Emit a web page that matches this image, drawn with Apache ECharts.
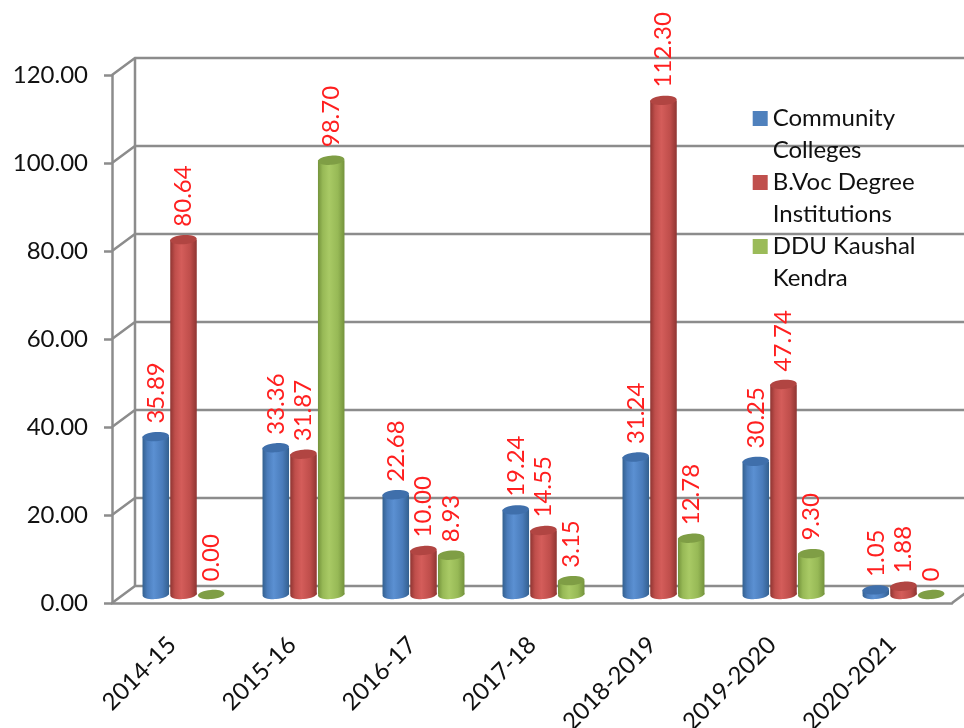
<!DOCTYPE html>
<html>
<head>
<meta charset="utf-8">
<script src="https://cdn.jsdelivr.net/npm/echarts@6/dist/echarts.min.js"></script>
<style>
  html, body { margin: 0; padding: 0; background: #ffffff; }
  #chart { width: 964px; height: 728px; }
</style>
</head>
<body>
<div id="chart"></div>
<script>
// Academic years on the category axis
const years = ['2014-15', '2015-16', '2016-17', '2017-18', '2018-2019', '2019-2020', '2020-2021'];

// Values per scheme, kept as the printed label strings
const communityColleges = ['35.89', '33.36', '22.68', '19.24', '31.24', '30.25', '1.05'];
const bvocInstitutions  = ['80.64', '31.87', '10.00', '14.55', '112.30', '47.74', '1.88'];
const dduKaushalKendra  = ['0.00', '98.70', '8.93', '3.15', '12.78', '9.30', '0'];

// Value axis ticks
const yTicks = [0, 20, 40, 60, 80, 100, 120];

// Legend names (wrapped onto two lines)
const seriesNames = ['Community\nColleges', 'B.Voc Degree\nInstitutions', 'DDU Kaushal\nKendra'];

const FONT = 'Lato, "Open Sans", sans-serif';
const FONT_SIZE = 24;
const GRID_COLOR = '#8c8c8c';
const DEPTH = [23, -17];       // offset of the back wall relative to the front plane
const LABEL_COLOR = '#ff1f1f';
const TEXT_COLOR = '#111111';

const palettes = [
  { base: '#4f81bd', dark: '#33608f', mid: '#4a7cbb', light: '#5b90d2', top: '#3f6fab' },
  { base: '#c0504d', dark: '#8f3532', mid: '#bf4e4b', light: '#d45d5a', top: '#b14542' },
  { base: '#9bbb59', dark: '#74933c', mid: '#97b956', light: '#a9ca65', top: '#7f9e45' }
];

const seriesValues = [communityColleges, bvocInstitutions, dduKaushalKendra];

function cylinderRenderer(k, labels) {
  const pal = palettes[k];
  return function (params, api) {
    const idx = api.value(0);
    const v = api.value(1);
    const base = api.coord([idx, 0]);
    const top = api.coord([idx, v]);
    const band = api.size([1, 0])[0];
    const step = band * 0.231;
    const w = band * 0.221;
    const cx = base[0] + (k - 1) * step + DEPTH[0] / 2;
    const yb = base[1] + DEPTH[1] / 2;
    const yt = top[1] + DEPTH[1] / 2;
    const ry = 4.6;
    const tilt = 0.07;
    const bodyFill = new echarts.graphic.LinearGradient(0, 0, 1, 0, [
      { offset: 0, color: pal.dark },
      { offset: 0.18, color: pal.mid },
      { offset: 0.42, color: pal.light },
      { offset: 0.75, color: pal.mid },
      { offset: 1, color: pal.dark }
    ]);
    const children = [];
    if (yb - yt > 0.5) {
      children.push({
        type: 'ellipse',
        shape: { cx: cx, cy: yb, rx: w / 2, ry: ry },
        rotation: tilt, originX: cx, originY: yb,
        style: { fill: bodyFill }
      });
      children.push({
        type: 'rect',
        shape: { x: cx - w / 2, y: yt, width: w, height: yb - yt },
        style: { fill: bodyFill }
      });
    }
    children.push({
      type: 'ellipse',
      shape: { cx: cx, cy: yt, rx: w / 2, ry: ry },
      rotation: tilt, originX: cx, originY: yt,
      style: { fill: pal.top }
    });
    children.push({
      type: 'text',
      x: cx,
      y: yt - 13,
      rotation: Math.PI / 2,
      style: {
        text: labels[params.dataIndex],
        fill: LABEL_COLOR,
        font: FONT_SIZE + 'px ' + FONT,
        align: 'left',
        verticalAlign: 'middle'
      }
    });
    return { type: 'group', children: children };
  };
}

// Back wall, gridlines and floor outline drawn in perspective
function wallRenderer(params, api) {
  const cs = params.coordSys;
  const v = api.value(1);
  const p = api.coord([0, v]);
  const y = p[1];
  const gx = cs.x;
  const right = api.getWidth() + 5;
  const line = { stroke: GRID_COLOR, lineWidth: 2.5, fill: null };
  const children = [{
    type: 'polyline',
    shape: { points: [[gx, y], [gx + DEPTH[0], y + DEPTH[1]], [right, y + DEPTH[1]]] },
    style: line
  }];
  if (params.dataIndex === 0) {
    const yMax = api.coord([0, yTicks[yTicks.length - 1]])[1];
    children.push({
      type: 'line',
      shape: { x1: gx + DEPTH[0], y1: y + DEPTH[1], x2: gx + DEPTH[0], y2: yMax + DEPTH[1] },
      style: line
    });
    children.push({
      type: 'line',
      shape: { x1: gx + cs.width, y1: y, x2: gx + cs.width + DEPTH[0], y2: y + DEPTH[1] },
      style: line
    });
  }
  return { type: 'group', children: children };
}

const chart = echarts.init(document.getElementById('chart'), null, { renderer: 'canvas' });

const series = [{
  type: 'custom',
  name: '__wall',
  silent: true,
  clip: false,
  z: 1,
  renderItem: wallRenderer,
  data: yTicks.map(function (t) { return [0, t]; })
}];

seriesValues.forEach(function (arr, k) {
  series.push({
    type: 'custom',
    name: seriesNames[k],
    clip: false,
    z: 3,
    itemStyle: { color: palettes[k].base },
    renderItem: cylinderRenderer(k, arr),
    encode: { x: 0, y: 1 },
    data: arr.map(function (s, i) { return [i, parseFloat(s)]; })
  });
});

chart.setOption({
  animation: false,
  backgroundColor: '#ffffff',
  grid: {
    left: 112, right: 12, top: 75, bottom: 125,
    containLabel: false,
    outerBoundsMode: 'none'
  },
  xAxis: {
    type: 'category',
    data: years,
    axisLine: { show: true, lineStyle: { color: GRID_COLOR, width: 2.5 } },
    axisTick: { show: false },
    axisLabel: {
      interval: 0,
      rotate: 45,
      margin: 38,
      fontSize: FONT_SIZE,
      fontFamily: FONT,
      color: TEXT_COLOR
    },
    splitLine: { show: false }
  },
  yAxis: {
    type: 'value',
    min: 0,
    max: 120,
    interval: 20,
    axisLine: { show: true, lineStyle: { color: GRID_COLOR, width: 2.5 } },
    axisTick: { show: true, length: 8, lineStyle: { color: GRID_COLOR, width: 2.5 } },
    axisLabel: {
      margin: 24,
      fontSize: FONT_SIZE,
      fontFamily: FONT,
      color: TEXT_COLOR,
      formatter: function (v) { return v.toFixed(2); }
    },
    splitLine: { show: false }
  },
  legend: {
    orient: 'vertical',
    left: 747.7,
    top: 97.5,
    itemWidth: 15,
    itemHeight: 47,
    itemGap: 0,
    icon: 'path://M0,0L15,0L15,15L0,15ZM0,47L0.01,47',
    itemStyle: { borderWidth: 0 },
    data: seriesNames,
    textStyle: {
      fontSize: FONT_SIZE,
      lineHeight: 32,
      fontFamily: FONT,
      color: TEXT_COLOR
    }
  },
  series: series
});
</script>
</body>
</html>
